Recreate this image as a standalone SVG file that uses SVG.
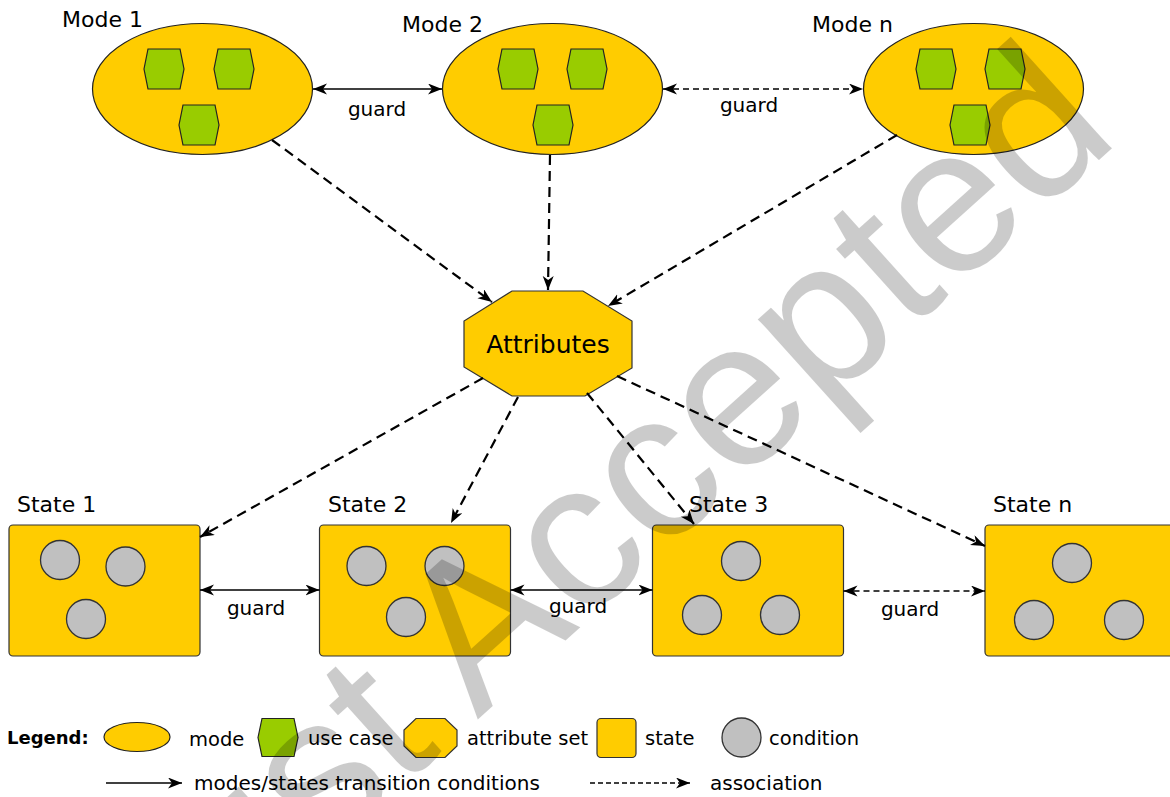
<svg xmlns="http://www.w3.org/2000/svg" xmlns:xlink="http://www.w3.org/1999/xlink" width="1170" height="797" viewBox="0 0 1170 797">
<style>
.t{font-family:"DejaVu Sans",Verdana,sans-serif;fill:#000}
.lbl{font-size:22px}
.g{font-size:20px;text-anchor:middle}
.lg{font-size:19.5px}
.mode{fill:#FFCC00;stroke:#222;stroke-width:1.2}
.uc{fill:#99CC00;stroke:#222;stroke-width:1.2}
.st{fill:#FFCC00;stroke:#333;stroke-width:1.2}
.cond{fill:#C0C0C0;stroke:#333;stroke-width:1.3}
.assoc{fill:none;stroke:#000;stroke-width:2.2;stroke-dasharray:10 6}
.trans{fill:none;stroke:#000;stroke-width:1.5}
.thin{fill:none;stroke:#000;stroke-width:1.4;stroke-dasharray:6 4}
</style>
<defs>
<marker id="ah" markerUnits="userSpaceOnUse" markerWidth="16" markerHeight="12" refX="14" refY="5.5" orient="auto-start-reverse">
<path d="M0,0 L14,5.5 L0,11 L4,5.5 Z" fill="#000"/>
</marker>
<polygon id="hex" points="-20,0 -16,-20 16,-20 20,0 16,20 -16,20" class="uc"/>
<circle id="c" r="19.5" class="cond"/>
</defs>
<rect width="1170" height="797" fill="#fff"/>

<g id="mode1">
<ellipse cx="202.5" cy="89" rx="110" ry="65.5" class="mode"/>
<use xlink:href="#hex" x="164" y="69"/>
<use xlink:href="#hex" x="234" y="69"/>
<use xlink:href="#hex" x="199" y="125"/>
<text class="t lbl" x="62" y="27">Mode 1</text>
</g>
<g id="mode2">
<ellipse cx="552.5" cy="89" rx="110" ry="65.5" class="mode"/>
<use xlink:href="#hex" x="518" y="69"/>
<use xlink:href="#hex" x="587" y="69"/>
<use xlink:href="#hex" x="553" y="125"/>
<text class="t lbl" x="402" y="32">Mode 2</text>
</g>
<g id="moden">
<ellipse cx="973.5" cy="89" rx="110" ry="65.5" class="mode"/>
<use xlink:href="#hex" x="936" y="69"/>
<use xlink:href="#hex" x="1005" y="69"/>
<use xlink:href="#hex" x="970" y="125"/>
<text class="t lbl" x="812" y="32">Mode n</text>
</g>

<g id="attributes">
<polygon points="512,291 583,291 632,321 632,368 585,396 512,396 464,367 464,321" fill="#FFCC00" stroke="#333" stroke-width="1.2"/>
<text class="t" x="548" y="353" font-size="25" text-anchor="middle">Attributes</text>
</g>

<g id="state1">
<rect x="9" y="525" width="191" height="131" rx="4" class="st"/>
<use xlink:href="#c" x="60" y="560"/>
<use xlink:href="#c" x="125.5" y="566.5"/>
<use xlink:href="#c" x="86" y="619"/>
<text class="t lbl" x="17" y="512">State 1</text>
</g>
<g id="state2">
<rect x="319.5" y="525" width="191" height="131" rx="4" class="st"/>
<use xlink:href="#c" x="366.5" y="566"/>
<use xlink:href="#c" x="444.5" y="566"/>
<use xlink:href="#c" x="406" y="617"/>
<text class="t lbl" x="328" y="512">State 2</text>
</g>
<g id="state3">
<rect x="652.5" y="525" width="191" height="131" rx="4" class="st"/>
<use xlink:href="#c" x="741" y="561"/>
<use xlink:href="#c" x="702" y="615"/>
<use xlink:href="#c" x="780" y="615"/>
<text class="t lbl" x="689" y="512">State 3</text>
</g>
<g id="staten">
<rect x="985" y="525" width="191" height="131" rx="4" class="st"/>
<use xlink:href="#c" x="1072" y="563"/>
<use xlink:href="#c" x="1034" y="620"/>
<use xlink:href="#c" x="1124" y="620"/>
<text class="t lbl" x="993" y="512">State n</text>
</g>

<g id="connectors">
<line x1="313" y1="89" x2="442" y2="89" class="trans" marker-start="url(#ah)" marker-end="url(#ah)"/>
<text class="t g" x="377" y="116">guard</text>
<line x1="663" y1="89" x2="863" y2="89" class="thin" marker-start="url(#ah)" marker-end="url(#ah)"/>
<text class="t g" x="749" y="112">guard</text>

<line x1="272" y1="140" x2="492" y2="302" class="assoc" marker-end="url(#ah)"/>
<line x1="550" y1="155" x2="548" y2="290" class="assoc" marker-end="url(#ah)"/>
<line x1="897" y1="135" x2="608" y2="306" class="assoc" marker-end="url(#ah)"/>

<line x1="483" y1="378" x2="200" y2="537" class="assoc" marker-end="url(#ah)"/>
<line x1="518" y1="397" x2="451" y2="523" class="assoc" marker-end="url(#ah)"/>
<line x1="587" y1="393" x2="694" y2="524" class="assoc" marker-end="url(#ah)"/>
<line x1="617" y1="376" x2="985" y2="546" class="assoc" marker-end="url(#ah)"/>

<line x1="200" y1="590" x2="319.5" y2="590" class="trans" marker-start="url(#ah)" marker-end="url(#ah)"/>
<text class="t g" x="256" y="615">guard</text>
<line x1="510.5" y1="590" x2="652.5" y2="590" class="trans" marker-start="url(#ah)" marker-end="url(#ah)"/>
<text class="t g" x="578" y="613">guard</text>
<line x1="843.5" y1="591" x2="985" y2="591" class="thin" marker-start="url(#ah)" marker-end="url(#ah)"/>
<text class="t g" x="910" y="616">guard</text>
</g>

<g id="legend">
<text class="t" x="7" y="744" font-size="18" font-weight="bold">Legend:</text>
<ellipse cx="137" cy="737" rx="33" ry="14.5" class="mode"/>
<text class="t lg" x="189" y="746">mode</text>
<polygon points="258,737.5 262,718.5 294,718.5 298,737.5 294,756.5 262,756.5" class="uc"/>
<text class="t lg" x="308" y="745">use case</text>
<polygon points="416,718.5 445,718.5 457,730 457,746 445,757.5 416,757.5 404,746 404,730" fill="#FFCC00" stroke="#333" stroke-width="1.2"/>
<text class="t lg" x="467" y="745">attribute set</text>
<rect x="597" y="718.5" width="39" height="39" rx="4" class="st"/>
<text class="t lg" x="645" y="745">state</text>
<circle cx="741.5" cy="737.5" r="19.5" class="cond"/>
<text class="t lg" x="769" y="745">condition</text>
<line x1="106" y1="783" x2="182" y2="783" class="trans" marker-end="url(#ah)"/>
<text class="t" x="194" y="790" font-size="20">modes/states transition conditions</text>
<line x1="590" y1="783" x2="690" y2="783" fill="none" stroke="#000" stroke-width="1.3" stroke-dasharray="5 3" marker-end="url(#ah)"/>
<text class="t" x="710" y="790" font-size="20">association</text>
</g>

<g id="watermark" opacity="0.2">
<text transform="translate(159.7,1005.9) rotate(-42)" x="0" y="0" font-family="'Liberation Sans',Arial,sans-serif" font-size="208" fill="#000">Just Accepted</text>
</g>
</svg>
